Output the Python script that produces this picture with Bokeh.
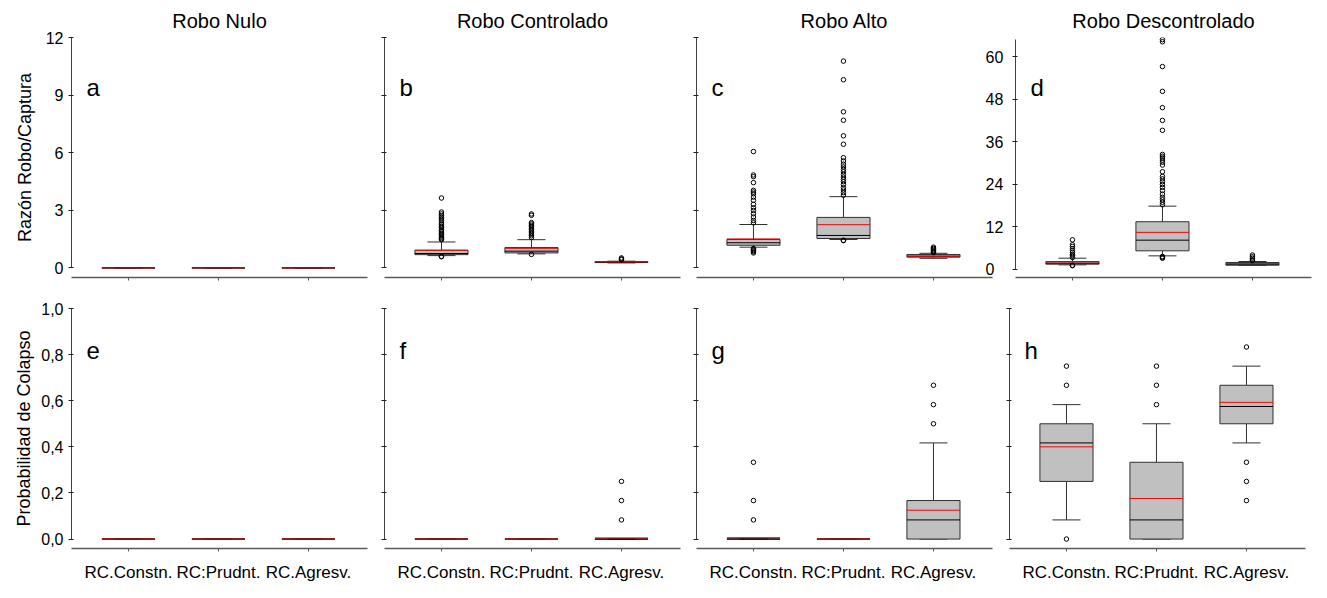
import numpy as np
from bokeh.plotting import figure
from bokeh.layouts import column, row
from bokeh.models import Range1d, FixedTicker, LinearAxis, Label, CustomJSTickFormatter
from bokeh.embed import file_html
from bokeh.resources import INLINE

FONT = "Liberation Sans"

categories = ["RC.Constn.", "RC:Prudnt.", "RC.Agresv."]
scenarios = ["Robo Nulo", "Robo Controlado", "Robo Alto", "Robo Descontrolado"]
letters_top = ["a", "b", "c", "d"]
letters_bottom = ["e", "f", "g", "h"]
ratio_label = "Razón Robo/Captura"
prob_label = "Probabilidad de Colapso"
ratio_ticks = [0, 3, 6, 9, 12]
ratio_ticks_d = [0, 12, 24, 36, 48, 60]
prob_ticks = [0.0, 0.2, 0.4, 0.6, 0.8, 1.0]

# ---- Razón Robo/Captura (top row) ----
a_lo = [0, 0, 0]
a_q1 = [0, 0, 0]
a_med = [0, 0, 0]
a_q3 = [0, 0, 0]
a_hi = [0, 0, 0]
a_mean = [0, 0, 0]
a_out = [[], [], []]

b_lo = [0.64, 0.73, 0.26]
b_q1 = [0.69, 0.78, 0.28]
b_med = [0.75, 0.87, 0.30]
b_q3 = [0.92, 1.06, 0.32]
b_hi = [1.35, 1.47, 0.35]
b_mean = [0.92, 1.02, 0.31]
b_out = [[3.64, 2.91, 2.81, 2.72, 2.63, 2.55, 2.46, 2.34, 2.25, 2.17, 2.11, 1.99, 1.93,
          1.87, 1.80, 1.73, 1.66, 1.59, 1.52, 1.47, 0.60, 0.58],
         [2.81, 2.74, 2.36, 2.29, 2.22, 2.15, 2.07, 1.99, 1.91, 1.83, 1.75, 1.67, 1.58, 0.70],
         [0.52, 0.47, 0.43]]

c_lo = [1.08, 1.48, 0.50]
c_q1 = [1.18, 1.53, 0.56]
c_med = [1.31, 1.69, 0.61]
c_q3 = [1.48, 2.63, 0.70]
c_hi = [2.26, 3.71, 0.76]
c_mean = [1.51, 2.25, 0.61]
c_out = [[6.06, 4.84, 4.75, 4.44, 4.04, 3.95, 3.86, 3.69, 3.52, 3.31, 3.13, 2.99, 2.82,
          2.65, 2.47, 2.35, 1.01, 0.95, 0.90, 0.84, 0.78],
         [10.77, 9.80, 8.13, 7.69, 6.88, 6.44, 5.74, 5.57, 5.40, 5.26, 5.13, 5.01, 4.87,
          4.73, 4.61, 4.49, 4.35, 4.18, 4.06, 3.92, 3.79, 1.44, 1.42],
         [1.08, 1.02, 0.96, 0.90, 0.84, 0.80]]

d_lo = [1.23, 3.77, 1.04]
d_q1 = [1.42, 5.19, 1.13]
d_med = [1.70, 8.20, 1.42]
d_q3 = [2.17, 13.40, 1.90]
d_hi = [3.11, 17.80, 2.17]
d_mean = [2.08, 10.40, 1.60]
d_out = [[8.3, 6.9, 6.4, 5.8, 5.2, 4.7, 4.2, 3.8, 3.3, 1.1, 1.0],
         [64.8, 64.2, 57.2, 50.2, 45.6, 42.0, 39.2, 32.4, 31.9, 31.4, 30.8, 30.2, 29.4,
          27.5, 26.2, 25.5, 24.7, 23.9, 23.1, 22.2, 21.2, 20.3, 19.6, 18.9, 18.2, 3.6, 3.3, 3.1],
         [4.0, 3.5, 3.1, 2.6, 2.4]]

# ---- Probabilidad de Colapso (bottom row) ----
e_lo = [0, 0, 0]
e_q1 = [0, 0, 0]
e_med = [0, 0, 0]
e_q3 = [0, 0, 0]
e_hi = [0, 0, 0]
e_mean = [0, 0, 0]
e_out = [[], [], []]

f_lo = [0, 0, 0]
f_q1 = [0, 0, 0]
f_med = [0, 0, 0]
f_q3 = [0, 0, 0]
f_hi = [0, 0, 0]
f_mean = [0, 0, 0.005]
f_out = [[], [], [0.25, 0.167, 0.083]]

g_lo = [0, 0, 0]
g_q1 = [0, 0, 0]
g_med = [0, 0, 0.083]
g_q3 = [0, 0, 0.167]
g_hi = [0, 0, 0.417]
g_mean = [0.006, 0.0, 0.125]
g_out = [[0.333, 0.167, 0.083], [], [0.667, 0.583, 0.5]]

h_lo = [0.083, 0.0, 0.417]
h_q1 = [0.25, 0.0, 0.5]
h_med = [0.417, 0.083, 0.575]
h_q3 = [0.5, 0.333, 0.667]
h_hi = [0.583, 0.5, 0.75]
h_mean = [0.40, 0.176, 0.593]
h_out = [[0.75, 0.667, 0.0], [0.75, 0.667, 0.583], [0.833, 0.333, 0.25, 0.167]]

stats = {
    "a": (a_lo, a_q1, a_med, a_q3, a_hi, a_mean, a_out),
    "b": (b_lo, b_q1, b_med, b_q3, b_hi, b_mean, b_out),
    "c": (c_lo, c_q1, c_med, c_q3, c_hi, c_mean, c_out),
    "d": (d_lo, d_q1, d_med, d_q3, d_hi, d_mean, d_out),
    "e": (e_lo, e_q1, e_med, e_q3, e_hi, e_mean, e_out),
    "f": (f_lo, f_q1, f_med, f_q3, f_hi, f_mean, f_out),
    "g": (g_lo, g_q1, g_med, g_q3, g_hi, g_mean, g_out),
    "h": (h_lo, h_q1, h_med, h_q3, h_hi, h_mean, h_out),
}

POS = np.array([1.0, 2.0, 3.0])
X_RANGE = (0.367, 3.656)
BOX_W = 0.59
CAP_PX = 28
FW, FH = 296, 240
BOX_FILL = "#c0c0c0"
EDGE = "#303030"

# column borders: (left, right)
COL_B = [(71, 2), (15, 2), (14, 8), (9, 6)]


def make_panel(letter, col, top_row, y_range, ybounds, yticks, yformat,
               ylabel=None, ylabel_standoff=14, title=None, show_ylabels=False,
               letter_drop=50):
    lo, q1, med, q3, hi, mean, out = stats[letter]
    L, R = COL_B[col]
    T, B = (37, 8) if top_row else (23, 34)
    p = figure(frame_width=FW, frame_height=FH,
               x_range=Range1d(*X_RANGE), y_range=y_range,
               x_axis_type=None, y_axis_type=None,
               output_backend="svg", toolbar_location=None,
               min_border_left=L, min_border_right=R,
               min_border_top=T, min_border_bottom=B,
               outline_line_color=None, title=title,
               background_fill_color="white", border_fill_color="white")
    if title is not None:
        p.title.align = "center"
        p.title.text_font = FONT
        p.title.text_font_size = "20px"
        p.title.text_font_style = "normal"
        p.title.text_color = "black"
        p.title.standoff = 11

    # y axis
    if show_ylabels:
        fmt = yformat
    else:
        fmt = CustomJSTickFormatter(code="return ''")
    yax = LinearAxis(ticker=FixedTicker(ticks=yticks), formatter=fmt, bounds=ybounds,
                     axis_line_color="#404040", axis_line_width=1,
                     major_tick_line_color="#202020", major_tick_out=3, major_tick_in=2,
                     minor_tick_line_color=None,
                     major_label_text_font=FONT, major_label_text_font_size="16px",
                     major_label_text_color="black",
                     major_label_standoff=5 if show_ylabels else 0)
    if ylabel:
        yax.axis_label = ylabel
        yax.axis_label_text_font = FONT
        yax.axis_label_text_font_size = "18px"
        yax.axis_label_text_font_style = "normal"
        yax.axis_label_text_color = "black"
        yax.axis_label_standoff = ylabel_standoff
    p.add_layout(yax, "left")

    # x axis
    if top_row:
        xfmt_kw = dict(formatter=CustomJSTickFormatter(code="return ''"), major_label_standoff=0)
    else:
        xfmt_kw = dict(major_label_overrides={1: categories[0], 2: categories[1], 3: categories[2]},
                       major_label_standoff=11)
    xax = LinearAxis(ticker=FixedTicker(ticks=[1, 2, 3]),
                     axis_line_color="#5a5a5a", axis_line_width=1.5,
                     major_tick_line_color="#5a5a5a", major_tick_out=3, major_tick_in=0,
                     minor_tick_line_color=None,
                     major_label_text_font=FONT, major_label_text_font_size="17px",
                     major_label_text_color="black", **xfmt_kw)
    p.add_layout(xax, "below")

    half = BOX_W / 2
    lo, q1, med, q3, hi, mean = map(np.asarray, (lo, q1, med, q3, hi, mean))
    # whiskers
    p.segment(POS, q3, POS, hi, line_color=EDGE, line_width=1)
    p.segment(POS, q1, POS, lo, line_color=EDGE, line_width=1)
    p.scatter(POS, hi, marker="dash", size=CAP_PX, line_color=EDGE, line_width=1)
    p.scatter(POS, lo, marker="dash", size=CAP_PX, line_color=EDGE, line_width=1)
    # boxes
    p.vbar(x=POS, width=BOX_W, top=q3, bottom=q1, fill_color=BOX_FILL,
           line_color=EDGE, line_width=1)
    p.segment(POS - half, med, POS + half, med, line_color="black", line_width=1)
    p.segment(POS - half, mean, POS + half, mean, line_color="#ff0000", line_width=1)
    # outliers
    ox = np.concatenate([np.full(len(o), POS[i]) for i, o in enumerate(out)])
    oy = np.concatenate([np.asarray(o, dtype=float) for o in out])
    if len(ox):
        p.scatter(ox, oy, marker="circle", size=4.5, fill_color=None,
                  line_color="black", line_width=1)

    # panel letter
    x0, x1 = X_RANGE
    lx = x0 + 15 / FW * (x1 - x0)
    ly = y_range.end - letter_drop / FH * (y_range.end - y_range.start)
    p.add_layout(Label(x=lx, y=ly, text=letter, text_font=FONT, text_font_size="24px",
                       text_color="black", text_baseline="alphabetic"))
    return p


ratio_fmt = CustomJSTickFormatter(code="return tick.toString()")
prob_fmt = CustomJSTickFormatter(code="return tick.toFixed(1).replace('.', ',')")

top_ranges = [Range1d(-0.5, 12.0), Range1d(-0.5, 12.0), Range1d(-0.5, 12.0), Range1d(-2.34, 65.4)]
top_bounds = [(0, 12), (0, 12), (0, 12), (0, 64.8)]
top_ticks = [ratio_ticks, ratio_ticks, ratio_ticks, ratio_ticks_d]

top = []
for i, let in enumerate(letters_top):
    top.append(make_panel(let, i, True, top_ranges[i], top_bounds[i], top_ticks[i], ratio_fmt,
                          ylabel=ratio_label if i == 0 else None, ylabel_standoff=8,
                          title=scenarios[i], show_ylabels=(i == 0), letter_drop=50))

# tick labels of panel d drawn at the left of its axis (over panel c's right border)
pc = top[2]
pc.extra_y_ranges = {"d": top_ranges[3]}
d_lab_axis = LinearAxis(y_range_name="d", ticker=FixedTicker(ticks=ratio_ticks_d),
                        axis_line_color=None, major_tick_line_color=None,
                        major_tick_out=0, major_tick_in=0, minor_tick_line_color=None,
                        major_label_text_font=FONT, major_label_text_font_size="16px",
                        major_label_text_color="black", major_label_standoff=-7)
pc.add_layout(d_lab_axis, "right")

bottom = []
for i, let in enumerate(letters_bottom):
    bottom.append(make_panel(let, i, False, Range1d(-0.041, 1.0), (0, 1), prob_ticks, prob_fmt,
                             ylabel=prob_label if i == 0 else None, ylabel_standoff=4,
                             show_ylabels=(i == 0), letter_drop=42))

layout = column(row(*top), row(*bottom))
open("out.html", "w").write(file_html(layout, INLINE))
